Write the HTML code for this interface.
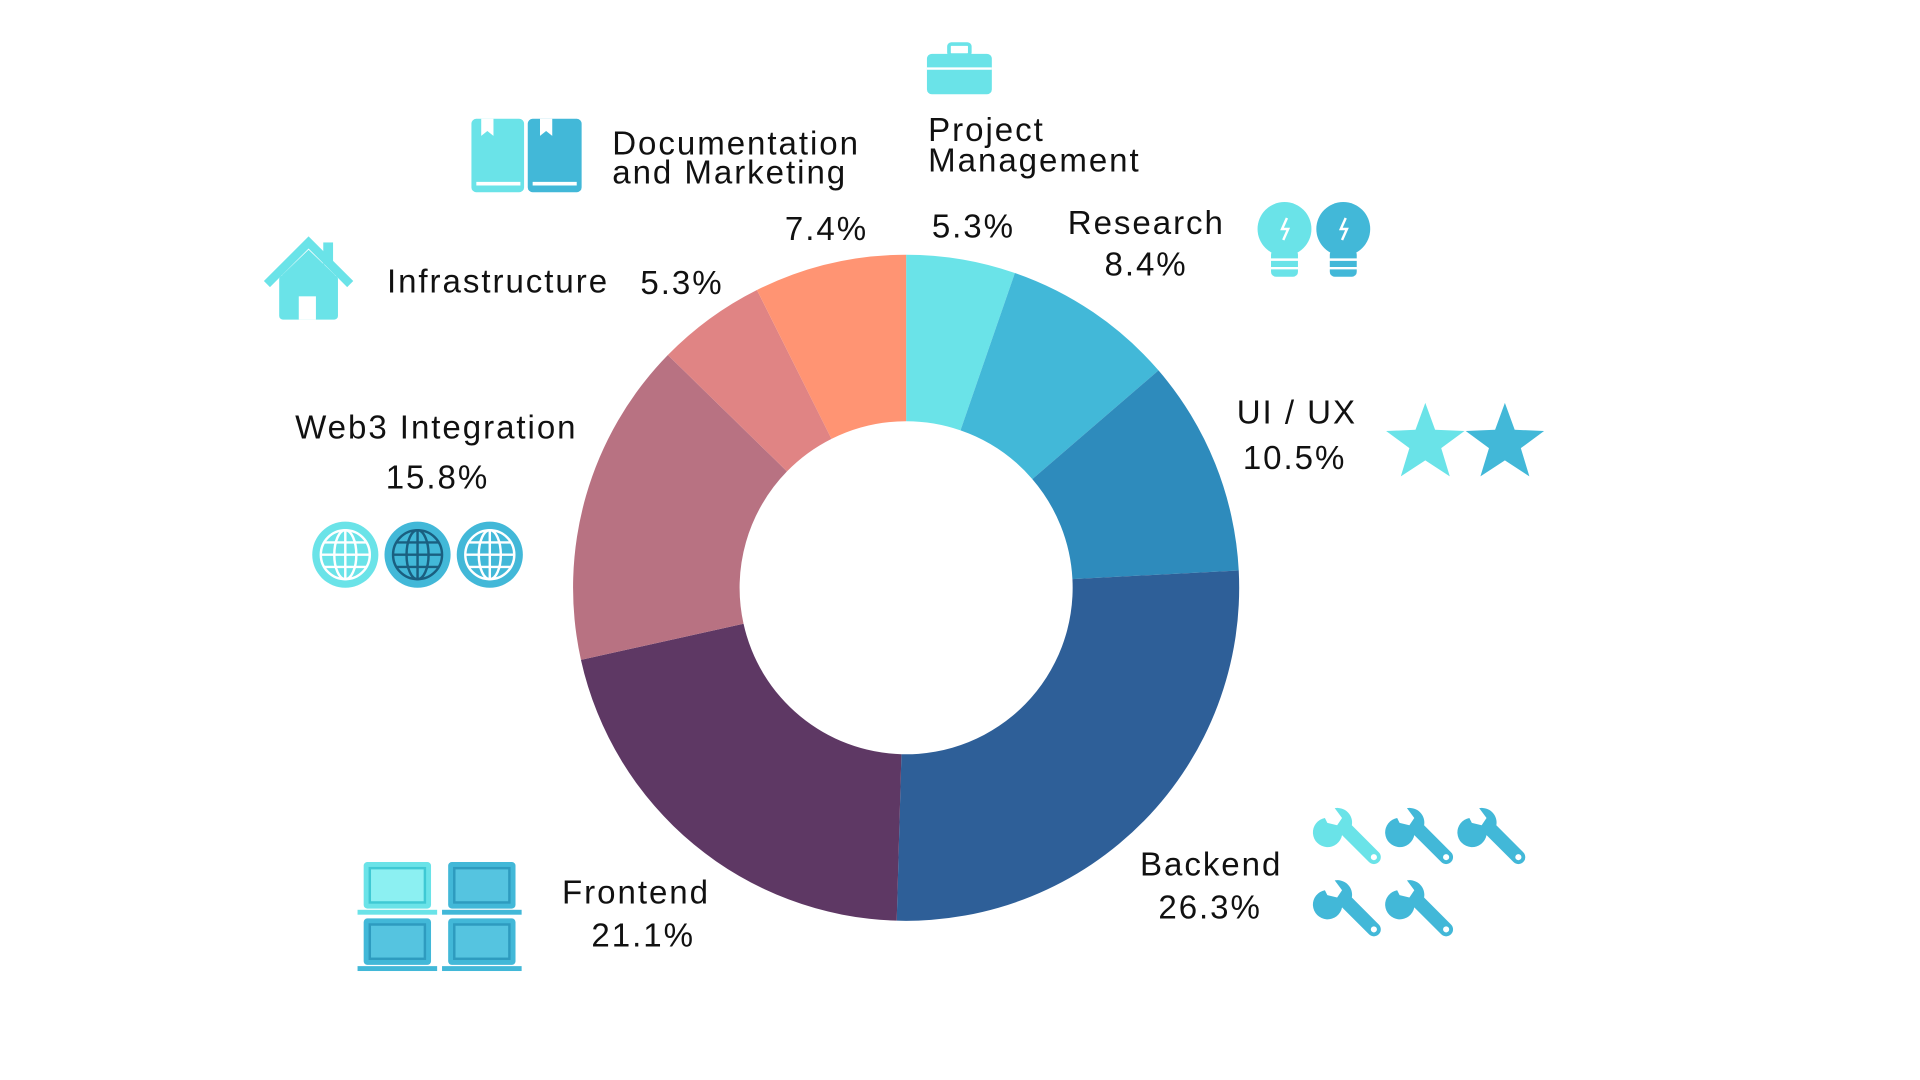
<!DOCTYPE html>
<html><head><meta charset="utf-8">
<style>
html,body{margin:0;padding:0;background:#fff;width:1920px;height:1080px;overflow:hidden}
svg{display:block}
text{font-family:"Liberation Sans",sans-serif;font-size:27px;fill:#111;letter-spacing:1.6px}
</style></head><body>
<svg id="s" width="1920" height="1080" viewBox="0 0 1568 882" xmlns="http://www.w3.org/2000/svg">
<g id="donut"></g>
<text x="758" y="115">Project</text>
<text x="758" y="140">Management</text>
<text x="761" y="194">5.3%</text>
<text x="500" y="126">Documentation</text>
<text x="500" y="150">and Marketing</text>
<text x="641" y="196">7.4%</text>
<text x="872" y="191">Research</text>
<text x="902" y="225">8.4%</text>
<text x="316" y="239">Infrastructure</text>
<text x="523" y="240">5.3%</text>
<text x="1010" y="346">UI / UX</text>
<text x="1015" y="383">10.5%</text>
<text x="241" y="358">Web3 Integration</text>
<text x="315" y="399">15.8%</text>
<text x="931" y="715">Backend</text>
<text x="946" y="750">26.3%</text>
<text x="459" y="738">Frontend</text>
<text x="483" y="773">21.1%</text>
<rect x="757" y="44" width="53" height="33" rx="4" fill="#6ae3e8"/>
<rect x="775" y="36" width="17" height="9" rx="2" fill="none" stroke="#6ae3e8" stroke-width="3"/>
<path d="M757 56 L810 56" stroke="#fff" stroke-width="2"/>
<rect x="385" y="97" width="43" height="60" rx="4" fill="#6ae3e8"/>
<rect x="431" y="97" width="44" height="60" rx="4" fill="#42b8d8"/>
<path d="M393 97v14l5-4 5 4V97M441 97v14l5-4 5 4V97" fill="#fff"/>
<path d="M389 150h36M435 150h36" stroke="#fff" stroke-width="3"/>
<path d="M218 232 L252 198 L286 232" fill="none" stroke="#6ae3e8" stroke-width="7"/>
<rect x="264" y="198" width="8" height="18" fill="#6ae3e8"/>
<rect x="228" y="225" width="48" height="36" rx="3" fill="#6ae3e8"/>
<path d="M230 225 L252 204 L274 225Z" fill="#6ae3e8"/>
<rect x="244" y="242" width="14" height="19" fill="#fff"/>
<circle cx="1049" cy="187" r="22" fill="#6ae3e8"/><rect x="1038" y="204" width="22" height="22" rx="4" fill="#6ae3e8"/>
<circle cx="1097" cy="187" r="22" fill="#42b8d8"/><rect x="1086" y="204" width="22" height="22" rx="4" fill="#42b8d8"/>
<path d="M1036 212h26M1036 219h26M1084 212h26M1084 219h26" stroke="#fff" stroke-width="2"/>
<path d="M1051 178l-4 9h5l-4 9M1099 178l-4 9h5l-4 9" fill="none" stroke="#fff" stroke-width="2"/>
<polygon fill="#6ae3e8" points="1164,329 1172,351 1196,352 1177,366 1184,389 1164,376 1144,389 1151,366 1132,352 1156,351"/>
<polygon fill="#42b8d8" points="1229,329 1237,351 1261,352 1242,366 1249,389 1229,376 1209,389 1216,366 1197,352 1221,351"/>
<g fill="none" stroke="#fff" stroke-width="2">
<circle cx="282" cy="453" r="27" fill="#6ae3e8" stroke="none"/>
<circle cx="341" cy="453" r="27" fill="#42b8d8" stroke="none"/>
<circle cx="400" cy="453" r="27" fill="#42b8d8" stroke="none"/>
<circle cx="282" cy="453" r="20"/><ellipse cx="282" cy="453" rx="9" ry="20"/><path d="M262 453h40M265 443h34M265 463h34M282 433v40"/>
<circle cx="341" cy="453" r="20" stroke="#1a5f80"/><ellipse cx="341" cy="453" rx="9" ry="20" stroke="#1a5f80"/><path d="M321 453h40M324 443h34M324 463h34M341 433v40" stroke="#1a5f80"/>
<circle cx="400" cy="453" r="20"/><ellipse cx="400" cy="453" rx="9" ry="20"/><path d="M380 453h40M383 443h34M383 463h34M400 433v40"/>
</g>
<g>
<rect x="297" y="704" width="55" height="38" rx="3" fill="#6ae3e8"/><rect x="302" y="709" width="45" height="28" fill="#8cf0f2" stroke="#3fc9d4" stroke-width="2"/><rect x="292" y="743" width="65" height="4" fill="#6ae3e8"/>
<rect x="366" y="704" width="55" height="38" rx="3" fill="#42b8d8"/><rect x="371" y="709" width="45" height="28" fill="#55c4e0" stroke="#2e9bbf" stroke-width="2"/><rect x="361" y="743" width="65" height="4" fill="#42b8d8"/>
<rect x="297" y="750" width="55" height="38" rx="3" fill="#42b8d8"/><rect x="302" y="755" width="45" height="28" fill="#55c4e0" stroke="#2e9bbf" stroke-width="2"/><rect x="292" y="789" width="65" height="4" fill="#42b8d8"/>
<rect x="366" y="750" width="55" height="38" rx="3" fill="#42b8d8"/><rect x="371" y="755" width="45" height="28" fill="#55c4e0" stroke="#2e9bbf" stroke-width="2"/><rect x="361" y="789" width="65" height="4" fill="#42b8d8"/>
</g>
<defs><g id="w"><path d="M0 0 a12 12 0 1 0 14 14 l22 22 a5 5 0 0 0 8 -8 l-22 -22 a12 12 0 0 0 -14 -14 l6 8 -4 6 -8 -2z" /><circle cx="40" cy="32" r="2.5" fill="#fff"/></g></defs>
<use href="#w" x="1082" y="668" fill="#6ae3e8"/>
<use href="#w" x="1141" y="668" fill="#42b8d8"/>
<use href="#w" x="1200" y="668" fill="#42b8d8"/>
<use href="#w" x="1082" y="727" fill="#42b8d8"/>
<use href="#w" x="1141" y="727" fill="#42b8d8"/>
</svg>
<script>
var d=[[5.3,"#6ae3e8"],[8.4,"#42b8d8"],[10.5,"#2e8bbc"],[26.3,"#2e5f98"],[21.1,"#5e3864"],[15.8,"#b87282"],[5.3,"#e08484"],[7.4,"#ff9473"]];
var cx=740,cy=480,R=272,r=136,tot=100.1,a=0,g=document.getElementById("donut"),h="";
function p(rad,ang){return [cx+rad*Math.sin(ang),cy-rad*Math.cos(ang)];}
d.forEach(function(s){var a0=a/tot*2*Math.PI;a+=s[0];var a1=a/tot*2*Math.PI;var L=(a1-a0)>Math.PI?1:0;
var p0=p(R,a0),p1=p(R,a1),q1=p(r,a1),q0=p(r,a0);
h+='<path fill="'+s[1]+'" d="M'+p0+' A'+R+' '+R+' 0 '+L+' 1 '+p1+' L'+q1+' A'+r+' '+r+' 0 '+L+' 0 '+q0+'Z"/>';});
g.innerHTML=h;
</script>
</body></html>
